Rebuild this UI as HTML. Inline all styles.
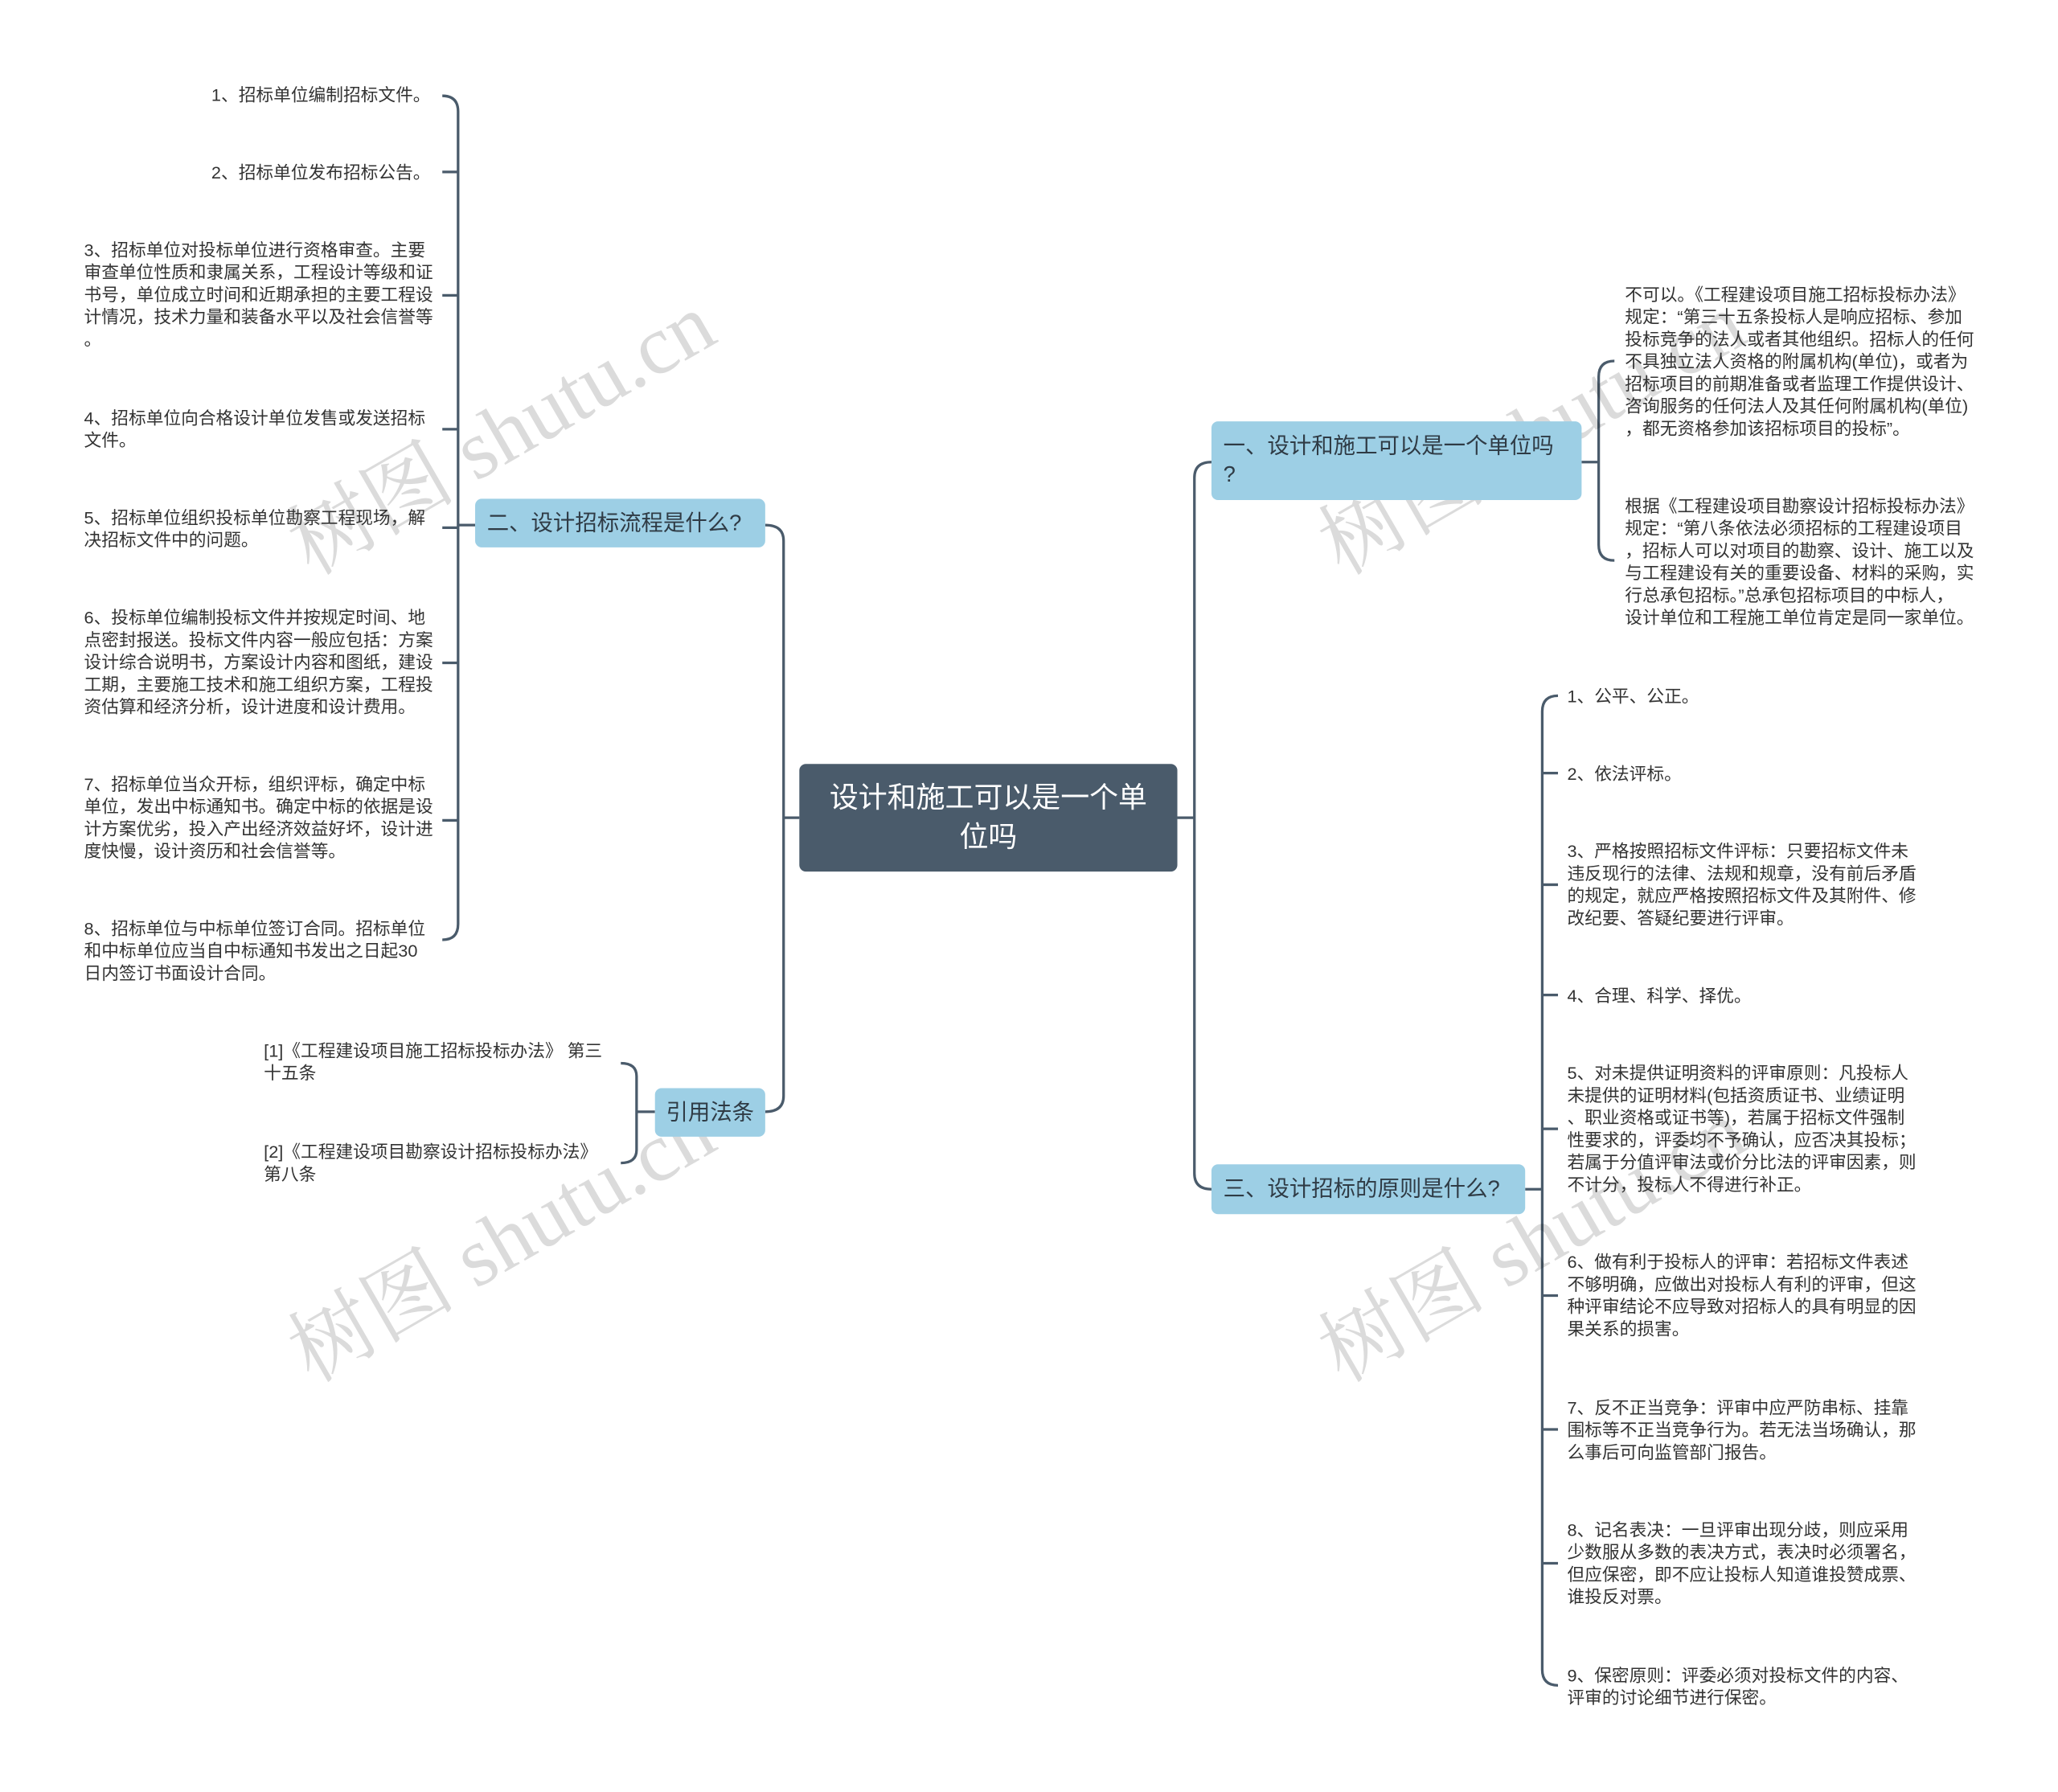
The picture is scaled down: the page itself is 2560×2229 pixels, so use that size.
<!DOCTYPE html>
<html><head><meta charset="utf-8"><style>
html,body{margin:0;padding:0;background:#fff;}
#wrap{position:relative;width:2560px;height:2229px;overflow:hidden;}
#c{position:absolute;left:0;top:0;width:1568px;height:1365px;transform:scale(1.6327);transform-origin:0 0;font-family:"Liberation Sans","Noto Sans CJK SC",sans-serif;color:#333;}
.t{position:absolute;font-size:13.3px;line-height:17px;white-space:nowrap;}
.r{text-align:right;}
.box{position:absolute;background:#9dcfe5;border-radius:5px;font-size:16.8px;color:#2f3b45;box-sizing:border-box;}
.wm{position:absolute;font-family:"Liberation Serif","Noto Serif CJK SC",serif;font-size:64px;color:rgba(0,0,0,0.14);transform:rotate(-30deg);white-space:nowrap;}
svg{position:absolute;left:0;top:0;}
</style></head><body><div id="wrap"><div id="c">
<svg width="1568" height="1365" fill="none" stroke="#4a5b6b" stroke-width="2">
<path d="M609 623 H597"/>
<path d="M583 400 Q597 400 597 412 V835 Q597 847 583 847"/>
<path d="M897 623 H910"/>
<path d="M923 352 Q910 352 910 364 V894 Q910 906 923 906"/>
<path d="M362 400 H349"/>
<path d="M337 73 Q349 73 349 85 V704 Q349 716 337 716"/>
<path d="M337 131 H349 M337 225 H349 M337 327 H349 M337 402 H349 M337 505 H349 M337 625 H349"/>
<path d="M499 847 H485"/>
<path d="M473 810 Q485 810 485 820 V876 Q485 886 473 886"/>
<path d="M1205 352 H1218"/>
<path d="M1230 275 Q1218 275 1218 287 V415 Q1218 427 1230 427"/>
<path d="M1162 906 H1175"/>
<path d="M1187 530 Q1175 530 1175 542 V1272 Q1175 1284 1187 1284"/>
<path d="M1187 589 H1175 M1187 674 H1175 M1187 758 H1175 M1187 860 H1175 M1187 987 H1175 M1187 1089 H1175 M1187 1191 H1175"/>
</svg>

<div class="wm" style="left:200px;top:280px;">树图 shutu.cn</div>
<div class="wm" style="left:985px;top:280px;">树图 shutu.cn</div>
<div class="wm" style="left:200px;top:895px;">树图 shutu.cn</div>
<div class="wm" style="left:985px;top:895px;">树图 shutu.cn</div>

<div style="position:absolute;left:609px;top:582px;width:288px;height:82px;background:#4a5b6b;border-radius:5px;color:#fff;font-size:22px;line-height:30px;text-align:center;padding-top:11px;box-sizing:border-box;">设计和施工可以是一个单<br>位吗</div>

<div class="box" style="left:362px;top:380px;width:221px;height:37px;line-height:37px;padding-left:9px;">二、设计招标流程是什么?</div>
<div class="box" style="left:499px;top:829px;width:84px;height:37px;line-height:37px;text-align:center;">引用法条</div>
<div class="box" style="left:923px;top:321px;width:282px;height:60px;line-height:22px;padding:8px 0 0 9px;">一、设计和施工可以是一个单位吗<br>?</div>
<div class="box" style="left:923px;top:887px;width:239px;height:38px;line-height:38px;padding-left:9px;">三、设计招标的原则是什么?</div>

<div class="t r" style="right:1240px;top:64px;">1、招标单位编制招标文件。</div>
<div class="t r" style="right:1240px;top:123px;">2、招标单位发布招标公告。</div>
<div class="t" style="left:64px;top:182px;">3、招标单位对投标单位进行资格审查。主要<br>审查单位性质和隶属关系，工程设计等级和证<br>书号，单位成立时间和近期承担的主要工程设<br>计情况，技术力量和装备水平以及社会信誉等<br>。</div>
<div class="t" style="left:64px;top:310px;">4、招标单位向合格设计单位发售或发送招标<br>文件。</div>
<div class="t" style="left:64px;top:386px;">5、招标单位组织投标单位勘察工程现场，解<br>决招标文件中的问题。</div>
<div class="t" style="left:64px;top:462px;">6、投标单位编制投标文件并按规定时间、地<br>点密封报送。投标文件内容一般应包括：方案<br>设计综合说明书，方案设计内容和图纸，建设<br>工期，主要施工技术和施工组织方案，工程投<br>资估算和经济分析，设计进度和设计费用。</div>
<div class="t" style="left:64px;top:589px;">7、招标单位当众开标，组织评标，确定中标<br>单位，发出中标通知书。确定中标的依据是设<br>计方案优劣，投入产出经济效益好坏，设计进<br>度快慢，设计资历和社会信誉等。</div>
<div class="t" style="left:64px;top:699px;">8、招标单位与中标单位签订合同。招标单位<br>和中标单位应当自中标通知书发出之日起30<br>日内签订书面设计合同。</div>

<div class="t" style="left:201px;top:792px;">[1]《工程建设项目施工招标投标办法》 第三<br>十五条</div>
<div class="t" style="left:201px;top:869px;">[2]《工程建设项目勘察设计招标投标办法》<br>第八条</div>

<div class="t" style="left:1238px;top:216px;">不可以。《工程建设项目施工招标投标办法》<br>规定：“第三十五条投标人是响应招标、参加<br>投标竞争的法人或者其他组织。招标人的任何<br>不具独立法人资格的附属机构(单位)，或者为<br>招标项目的前期准备或者监理工作提供设计、<br>咨询服务的任何法人及其任何附属机构(单位)<br>，都无资格参加该招标项目的投标”。</div>
<div class="t" style="left:1238px;top:377px;">根据《工程建设项目勘察设计招标投标办法》<br>规定：“第八条依法必须招标的工程建设项目<br>，招标人可以对项目的勘察、设计、施工以及<br>与工程建设有关的重要设备、材料的采购，实<br>行总承包招标。”总承包招标项目的中标人，<br>设计单位和工程施工单位肯定是同一家单位。</div>

<div class="t" style="left:1194px;top:522px;">1、公平、公正。</div>
<div class="t" style="left:1194px;top:581px;">2、依法评标。</div>
<div class="t" style="left:1194px;top:640px;">3、严格按照招标文件评标：只要招标文件未<br>违反现行的法律、法规和规章，没有前后矛盾<br>的规定，就应严格按照招标文件及其附件、修<br>改纪要、答疑纪要进行评审。</div>
<div class="t" style="left:1194px;top:750px;">4、合理、科学、择优。</div>
<div class="t" style="left:1194px;top:809px;">5、对未提供证明资料的评审原则：凡投标人<br>未提供的证明材料(包括资质证书、业绩证明<br>、职业资格或证书等)，若属于招标文件强制<br>性要求的，评委均不予确认，应否决其投标；<br>若属于分值评审法或价分比法的评审因素，则<br>不计分，投标人不得进行补正。</div>
<div class="t" style="left:1194px;top:953px;">6、做有利于投标人的评审：若招标文件表述<br>不够明确，应做出对投标人有利的评审，但这<br>种评审结论不应导致对招标人的具有明显的因<br>果关系的损害。</div>
<div class="t" style="left:1194px;top:1064px;">7、反不正当竞争：评审中应严防串标、挂靠<br>围标等不正当竞争行为。若无法当场确认，那<br>么事后可向监管部门报告。</div>
<div class="t" style="left:1194px;top:1157px;">8、记名表决：一旦评审出现分歧，则应采用<br>少数服从多数的表决方式，表决时必须署名，<br>但应保密，即不应让投标人知道谁投赞成票、<br>谁投反对票。</div>
<div class="t" style="left:1194px;top:1268px;">9、保密原则：评委必须对投标文件的内容、<br>评审的讨论细节进行保密。</div>
</div></div></body></html>
